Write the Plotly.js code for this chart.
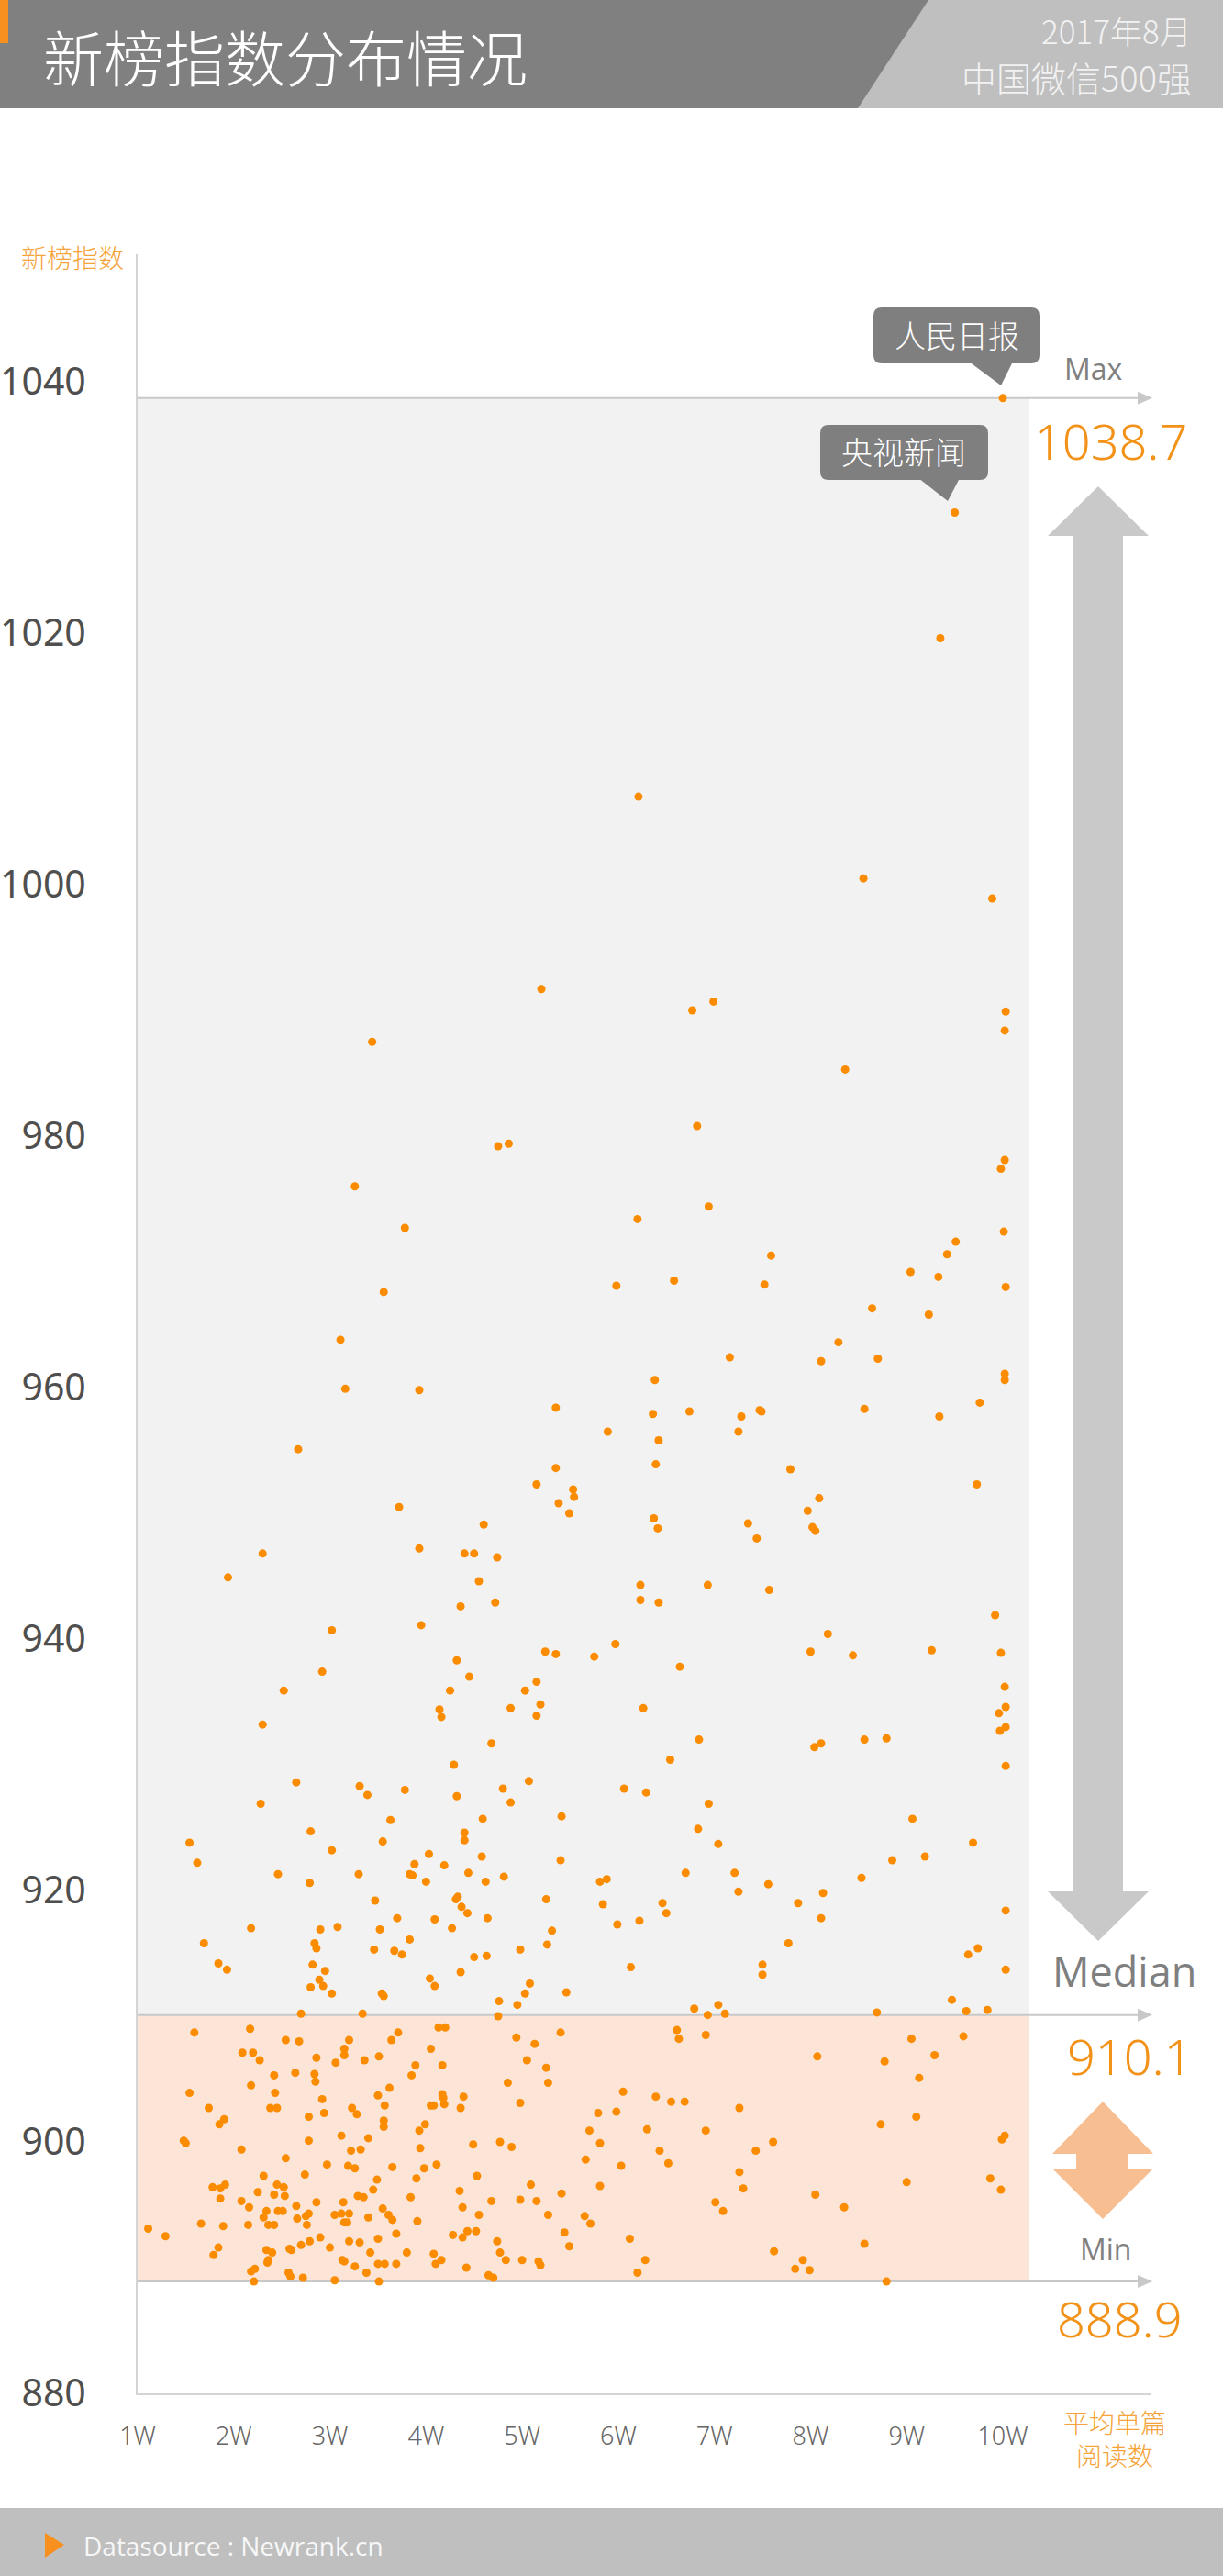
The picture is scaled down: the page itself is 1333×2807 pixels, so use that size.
<!DOCTYPE html>
<html>
<head>
<meta charset="utf-8">
<script src="https://cdn.plot.ly/plotly-3.0.1.min.js"></script>
<style>
  html, body { margin: 0; padding: 0; background: #ffffff; }
  #chart { width: 1333px; height: 2807px; }
</style>
</head>
<body>
<div id="chart"></div>
<script>
// ---------------- DATA ----------------
// Average reads per article (unit: W = 10,000) and Newrank index, accounts above the median
const readsAbove = [
  10.0, 9.50, 9.35, 6.21, 8.55,
  5.20, 3.44, 4.75, 4.86, 3.26, 3.78, 3.56, 3.11,
  9.89, 6.99, 6.77, 10.03, 10.02, 8.36, 6.82, 10.02, 9.98, 6.94, 6.20, 7.59, 9.51, 9.42, 10.01, 5.98,
  6.58, 7.52, 9.04, 9.33, 10.03, 8.64, 9.23, 8.29, 7.16, 8.11, 8.70, 6.38, 10.02, 10.02,
  3.16, 3.93, 5.35, 2.67, 5.35, 5.15, 5.53, 5.54, 5.38, 5.49, 3.72, 4.60, 2.30, 3.93, 4.40, 4.50,
  4.74, 1.94, 4.55, 4.36, 4.72, 3.02, 3.95, 4.32, 5.24, 5.35, 5.75, 2.92, 4.45, 2.52, 4.25, 5.15,
  5.03, 5.19, 5.15, 4.14, 4.16, 4.88, 2.30, 4.68, 4.29, 2.65, 5.07, 3.31, 3.39, 3.78, 4.32, 4.80,
  4.88, 2.28, 3.63, 4.59, 5.41, 2.80, 4.40, 4.40, 1.54, 3.02, 3.55, 1.62, 4.03, 4.58, 5.40, 3.88,
  2.46, 3.30, 3.83, 3.86, 4.19, 4.44, 4.81, 2.79, 4.00, 4.62, 3.47, 4.31, 4.33, 4.37, 4.43, 5.25,
  3.70, 4.09, 4.64, 2.18, 2.90, 3.08, 3.52, 4.27, 5.31, 1.69, 2.84, 2.86, 3.83, 5.26, 3.46, 3.67,
  3.75, 4.98, 4.50, 4.63, 1.84, 1.93, 2.82, 2.95, 4.36, 4.04, 4.09, 5.08, 2.89, 2.93, 2.80, 3.02,
  3.54, 3.56, 5.03, 5.46, 4.76, 4.95, 2.70, 3.34, 4.75,
  6.36, 6.74, 5.89, 6.42, 7.28, 7.25, 7.47, 7.49, 8.56, 9.34, 9.76, 6.39, 7.79, 9.73, 8.09, 7.97,
  6.37, 6.41, 7.35, 7.44, 8.02, 8.05, 6.23, 6.23, 6.42, 6.93, 7.57, 9.92, 5.97, 8.18, 8.00, 8.44,
  9.26, 9.98, 6.64, 10.02, 6.26, 10.03, 9.96, 9.97, 10.03, 6.84, 8.04, 8.11, 8.56, 8.79, 10.03, 6.54,
  6.06, 6.29, 6.94, 6.83, 7.04, 9.06, 9.69, 9.19, 8.85, 8.53, 6.70, 7.21, 7.25, 7.56, 8.13, 7.87,
  8.11, 5.84, 6.46, 6.50, 5.99, 6.22, 10.03, 7.77, 6.13, 7.50, 7.50, 9.64, 9.74, 10.03, 9.47, 6.79,
  7.04, 6.93, 7.11, 8.69, 9.62, 9.84, 5.81, 5.88
];
const indexAbove = [
  1038.7, 1029.6, 1019.6, 1007.0, 1000.5,
  991.7, 987.5, 979.2, 979.4, 976.0, 972.7, 967.6, 963.8,
  998.9, 990.7, 990.0, 989.9, 988.4, 985.3, 980.8, 978.1, 977.4, 974.4, 973.4, 970.5, 971.6, 970.6, 972.4, 968.1,
  968.5, 968.2, 969.2, 968.8, 968.0, 966.3, 965.8, 963.6, 962.4, 962.1, 962.3, 960.6, 961.1, 960.6,
  959.9, 959.8, 958.4, 955.1, 953.6, 952.3, 951.9, 951.3, 950.8, 950.0, 950.5, 949.1, 946.8, 947.2, 946.8, 946.8,
  946.5, 944.9, 944.6, 942.6, 942.9, 940.7, 941.1, 938.3, 939.0, 938.8, 938.6, 937.4, 937.0, 935.9, 935.9, 936.6,
  935.9, 934.8, 933.9, 934.4, 933.8, 934.5, 933.2, 931.7, 930.0, 928.6, 928.7, 928.3, 927.6, 928.0, 927.5, 928.1,
  927.0, 926.9, 925.6, 925.7, 925.9, 924.7, 924.6, 924.0, 923.8, 923.2, 923.9, 922.2, 922.9, 922.7, 922.4, 922.1,
  921.3, 921.3, 921.3, 921.2, 922.0, 921.4, 921.1, 920.6, 920.7, 920.7, 919.2, 919.3, 919.5, 918.7, 918.2, 919.3,
  917.8, 917.7, 917.8, 917.0, 916.9, 917.1, 916.9, 917.0, 916.8, 915.8, 915.8, 915.4, 916.1, 915.7, 915.3, 915.2,
  914.9, 915.3, 914.7, 914.8, 914.2, 913.7, 914.1, 913.6, 913.5, 913.0, 912.4, 912.6, 912.9, 912.4, 912.3, 911.8,
  911.8, 911.6, 911.8, 911.9, 911.2, 910.9, 910.2, 910.2, 910.0,
  957.9, 958.1, 956.5, 955.8, 957.7, 956.5, 958.2, 958.1, 958.3, 957.7, 958.8, 953.9, 953.5, 952.3, 951.2, 950.2,
  949.6, 948.8, 949.2, 948.0, 948.9, 948.6, 944.3, 943.1, 942.9, 944.3, 943.9, 941.9, 939.6, 940.4, 939.0, 938.7,
  939.1, 938.9, 937.8, 936.2, 934.5, 934.6, 934.1, 932.7, 933.0, 932.0, 931.4, 931.7, 932.0, 932.1, 929.9, 930.4,
  928.1, 927.8, 926.9, 924.9, 923.7, 925.7, 923.8, 922.7, 922.4, 921.0, 921.4, 921.4, 919.9, 920.5, 919.8, 919.0,
  917.8, 918.9, 919.0, 918.2, 917.3, 917.6, 918.4, 915.8, 913.9, 914.1, 913.3, 914.9, 915.4, 913.7, 911.3, 910.6,
  910.9, 910.1, 910.2, 910.3, 910.4, 910.5, 920.7, 920.9
];
// Accounts below the median
const readsBelow = [
  1.59, 2.17, 2.54, 2.68, 3.20, 3.71, 3.64, 4.13, 4.20, 4.94, 5.13, 2.09, 2.20, 2.27, 2.86, 3.15,
  3.15, 3.06, 3.36, 3.51, 4.05, 4.17, 3.89, 3.85, 5.05, 5.25, 2.42, 2.64, 2.84, 2.85, 4.85, 5.27,
  2.18, 1.54, 2.43, 2.92, 3.50, 3.62, 3.57, 4.17, 4.18, 4.19, 4.39, 4.05, 4.08, 4.36, 4.98, 1.74,
  2.38, 2.45, 1.90, 1.85, 2.78, 2.94, 3.23, 3.28, 3.56, 3.56, 3.99, 3.93, 1.48, 1.50, 2.08, 2.78,
  3.12, 3.40, 3.94, 4.49, 4.77, 4.89, 3.22, 3.32, 2.54, 2.97, 3.19, 3.26, 3.65, 3.98, 4.11, 2.31,
  2.74, 3.49, 3.90, 4.53, 1.78, 1.86, 1.91, 2.45, 2.52, 2.25, 2.42, 2.53, 3.45, 3.29, 3.35, 5.09,
  4.35, 1.86, 2.08, 2.16, 2.86, 3.14, 3.84, 4.38, 4.68, 4.98, 5.15, 2.65, 2.78, 2.34, 2.46, 2.51,
  2.31, 2.66, 2.75, 3.05, 3.12, 3.20, 3.55, 3.61, 3.65, 4.55, 5.27, 1.11, 1.29, 1.66, 1.89, 2.15,
  2.36, 2.42, 2.76, 3.15, 3.18, 3.40, 3.91, 3.69, 4.28, 4.38, 4.43, 4.52, 2.79, 2.90, 3.20, 3.31,
  3.50, 4.74, 1.84, 1.79, 2.34, 2.40, 2.58, 2.60, 2.70, 3.00, 3.42, 3.80, 4.77, 2.36, 2.35, 3.13,
  3.15, 3.26, 3.50, 3.57, 3.69, 4.08, 4.10, 4.16, 4.83, 5.00, 5.17, 5.19, 2.18, 2.22, 2.57, 2.59,
  2.72, 3.38, 4.42, 4.65, 4.70, 2.21, 3.05, 3.51,
  5.40, 8.07, 8.77, 9.05, 9.29, 9.59, 9.13, 6.61, 6.63, 6.91, 6.05, 6.39, 6.55, 6.69, 7.26, 5.79,
  5.98, 5.70, 5.81, 6.30, 6.91, 8.73, 9.10, 6.43, 6.52, 7.43, 7.61, 5.66, 6.03, 7.26, 7.30, 5.81,
  5.41, 9.00, 9.87, 9.98, 9.99, 10.02, 8.05, 8.35, 7.01, 7.09, 5.44, 5.49, 5.65, 5.71, 6.12, 6.28,
  6.20, 7.62, 7.92, 7.84, 7.99, 8.56, 8.79
];
const indexBelow = [
  908.7, 909.0, 908.1, 908.0, 908.1, 908.7, 908.1, 909.1, 909.1, 908.3, 907.8, 907.1, 907.1, 906.5, 906.7, 907.4,
  906.9, 906.3, 906.5, 906.8, 907.4, 906.1, 906.1, 905.3, 906.5, 905.9, 905.3, 905.5, 905.4, 904.8, 904.7, 904.7,
  904.5, 903.9, 903.9, 903.4, 903.7, 904.3, 902.9, 903.8, 903.5, 903.0, 903.6, 902.9, 902.9, 902.7, 903.1, 902.7,
  902.7, 902.7, 901.8, 901.4, 902.0, 902.3, 902.7, 902.2, 901.7, 901.2, 901.4, 900.9, 900.1, 899.9, 899.4, 900.1,
  900.5, 900.3, 899.5, 899.8, 900.0, 899.6, 899.3, 899.4, 898.7, 898.2, 898.1, 897.9, 898.0, 897.9, 898.2, 897.3,
  897.4, 897.0, 897.1, 897.3, 896.4, 896.3, 896.6, 896.6, 896.4, 896.0, 895.8, 895.7, 896.2, 895.7, 895.6, 896.6,
  896.1, 895.5, 895.3, 894.8, 895.2, 895.2, 895.6, 894.8, 895.3, 895.4, 895.3, 894.9, 894.3, 894.5, 894.5, 894.5,
  894.0, 893.9, 894.1, 894.2, 894.3, 894.3, 894.7, 894.2, 893.8, 894.2, 894.2, 893.1, 892.5, 893.5, 893.3, 893.4,
  893.4, 893.4, 893.4, 893.6, 893.6, 894.0, 893.7, 892.7, 892.6, 892.4, 892.9, 892.9, 892.1, 892.4, 892.1, 892.0,
  892.3, 892.1, 891.6, 891.0, 891.4, 891.2, 891.5, 891.4, 891.8, 891.6, 891.2, 891.2, 891.2, 890.6, 890.4, 890.6,
  890.5, 890.1, 890.3, 890.3, 890.3, 891.1, 890.3, 890.6, 890.6, 890.6, 890.5, 890.2, 889.7, 889.9, 889.6, 889.3,
  889.2, 889.6, 890.0, 889.4, 889.2, 888.9, 889.0, 888.9,
  908.7, 906.8, 906.4, 908.2, 906.9, 908.4, 905.1, 908.9, 908.2, 908.5, 904.0, 903.6, 903.2, 903.2, 902.7, 902.3,
  902.4, 900.9, 899.9, 901.0, 900.9, 901.4, 902.0, 899.3, 898.3, 899.3, 900.0, 898.6, 898.1, 897.6, 896.3, 896.5,
  895.9, 896.8, 897.1, 896.2, 900.2, 900.5, 895.8, 894.8, 895.2, 894.5, 892.8, 891.7, 894.1, 893.5, 892.3, 890.6,
  889.6, 891.3, 890.6, 889.9, 889.8, 891.9, 888.9
];
// Summary statistics printed on the chart
const statMax = 1038.7;
const statMedian = 910.1;
const statMin = 888.9;
// Highlighted accounts
const calloutNames = ['人民日报', '央视新闻'];
// Axis ticks
const xTickVals = [1, 2, 3, 4, 5, 6, 7, 8, 9, 10];
const xTickLabels = ['1W', '2W', '3W', '4W', '5W', '6W', '7W', '8W', '9W', '10W'];
const yTickVals = [880, 900, 920, 940, 960, 980, 1000, 1020, 1040];
const yTickLabels = ['880', '900', '920', '940', '960', '980', '1000', '1020', '1040'];

// ---------------- LAYOUT GEOMETRY ----------------
const W = 1333, H = 2807;
const ML = 150, MR = 79, MT = 277, MB = 199;
const PW = W - ML - MR, PH = H - MT - MB;
const PX_PER_W = 104.78, PX_PER_UNIT = 13.70;
const xRange = [1, 1 + PW / PX_PER_W];
const yRange = [880, 880 + PH / PX_PER_UNIT];

const px = X => (X - ML) / PW;
const py = Y => (H - MB - Y) / PH;
const yPix = v => H - MB - (v - yRange[0]) * PX_PER_UNIT;
function pathPx(pts, close) {
  return pts.map((p, i) => (i ? 'L' : 'M') + px(p[0]).toFixed(5) + ',' + py(p[1]).toFixed(5)).join(' ') + (close ? ' Z' : '');
}
function roundRectPx(x0, y0, x1, y1, r) {
  const P = (X, Y) => px(X).toFixed(5) + ',' + py(Y).toFixed(5);
  return 'M' + P(x0 + r, y0) + ' L' + P(x1 - r, y0) + ' Q' + P(x1, y0) + ' ' + P(x1, y0 + r) +
    ' L' + P(x1, y1 - r) + ' Q' + P(x1, y1) + ' ' + P(x1 - r, y1) +
    ' L' + P(x0 + r, y1) + ' Q' + P(x0, y1) + ' ' + P(x0, y1 - r) +
    ' L' + P(x0, y0 + r) + ' Q' + P(x0, y0) + ' ' + P(x0 + r, y0) + ' Z';
}
const pshape = (path, fill) => ({ type: 'path', xref: 'paper', yref: 'paper', path: path, fillcolor: fill, line: { width: 0 }, layer: 'above' });

const ORANGE = '#fb8c00';
const ORANGE_TXT = '#f39219';
const AXIS_ORANGE = '#f5a33a';
const CJK = '"Noto Sans CJK SC", "Noto Sans", sans-serif';
const NUM = '"Noto Sans", "Open Sans", sans-serif';
const LAT = '"Open Sans", "Noto Sans", sans-serif';

// ---------------- SHAPES ----------------
const shapes = [];
const bandRight = px(1122);
// shaded bands
shapes.push({ type: 'rect', xref: 'paper', yref: 'y', x0: 0, x1: bandRight, y0: statMedian, y1: statMax, fillcolor: '#f2f2f2', line: { width: 0 }, layer: 'below' });
shapes.push({ type: 'rect', xref: 'paper', yref: 'y', x0: 0, x1: bandRight, y0: statMin, y1: statMedian, fillcolor: '#fce5d7', line: { width: 0 }, layer: 'below' });
// reference lines with arrowheads
[statMax, statMedian, statMin].forEach(v => {
  shapes.push({ type: 'line', xref: 'paper', yref: 'y', x0: 0, x1: px(1244), y0: v, y1: v, line: { color: '#c8c8c8', width: 2 }, layer: 'below' });
  const Y = yPix(v);
  shapes.push({ type: 'path', xref: 'paper', yref: 'paper', path: pathPx([[1240, Y - 7], [1256, Y], [1240, Y + 7]], true), fillcolor: '#c8c8c8', line: { width: 0 }, layer: 'below' });
});
// big grey double arrow (max -> median)
shapes.push(pshape(pathPx([[1197, 530], [1252, 584], [1224, 584], [1224, 2061], [1252, 2061], [1197, 2115], [1142, 2061], [1169, 2061], [1169, 584], [1142, 584]], true), '#c9c9c9'));
// orange double arrow (median -> min)
shapes.push(pshape(pathPx([[1202, 2290], [1257, 2347], [1230, 2347], [1230, 2363], [1257, 2363], [1202, 2418], [1147, 2363], [1173, 2363], [1173, 2347], [1147, 2347]], true), '#f7be91'));
// callouts
shapes.push(pshape(roundRectPx(952, 335, 1133, 396, 9), '#7f7f7f'));
shapes.push(pshape(pathPx([[1056, 394], [1104, 394], [1091, 420]], true), '#7f7f7f'));
shapes.push(pshape(roundRectPx(894, 463, 1077, 523, 9), '#7f7f7f'));
shapes.push(pshape(pathPx([[1001, 521], [1046, 521], [1033, 546]], true), '#7f7f7f'));
// header
shapes.push(pshape(pathPx([[0, 0], [W, 0], [W, 118], [0, 118]], true), '#808080'));
shapes.push(pshape(pathPx([[1012, 0], [W, 0], [W, 118], [935, 118]], true), '#bfbfbf'));
shapes.push(pshape(pathPx([[0, 0], [9, 0], [9, 47], [0, 47]], true), '#f7901e'));
// footer
shapes.push(pshape(pathPx([[0, 2733], [W, 2733], [W, H], [0, H]], true), '#bfbfbf'));
shapes.push(pshape(pathPx([[49, 2760], [70, 2773], [49, 2787]], true), '#f7901e'));

// ---------------- ANNOTATIONS ----------------
function txt(text, X, Y, size, color, family, xanchor, weight) {
  return { text: text, xref: 'paper', yref: 'paper', x: px(X), y: py(Y), xanchor: xanchor || 'center', yanchor: 'middle',
    showarrow: false, font: { family: family, size: size, color: color, weight: weight || 400 } };
}
const annotations = [
  txt('新榜指数分布情况', 45, 60, 66, '#ffffff', CJK, 'left', 300),
  txt('2017年8月', 1301, 32, 35, '#f2f2f2', CJK, 'right', 300),
  txt('中国微信500强', 1301, 83, 38, '#f2f2f2', CJK, 'right', 300),
  txt('新榜指数', 79, 280, 28, AXIS_ORANGE, CJK, 'center', 300),
  txt('平均单篇<br>阅读数', 1215, 2657, 28, AXIS_ORANGE, CJK, 'center', 300),
  txt('Max', 1192, 401, 32, '#808080', LAT, 'center', 400),
  txt(statMax.toFixed(1), 1210, 480, 54, ORANGE_TXT, NUM, 'center', 300),
  txt('Median', 1225, 2147, 45, '#7f7f7f', LAT, 'center', 400),
  txt(statMedian.toFixed(1), 1231, 2240, 54, ORANGE_TXT, NUM, 'center', 300),
  txt('Min', 1205, 2450, 32, '#808080', LAT, 'center', 400),
  txt(statMin.toFixed(1), 1220, 2526, 54, ORANGE_TXT, NUM, 'center', 300),
  txt(calloutNames[0], 1043, 365, 34, '#ffffff', CJK, 'center', 300),
  txt(calloutNames[1], 985, 492, 34, '#ffffff', CJK, 'center', 300),
  txt('Datasource : Newrank.cn', 89, 2774, 28, '#f7f7f7', LAT, 'left', 400)
];

// ---------------- TRACES ----------------
const trace = {
  type: 'scatter', mode: 'markers',
  x: readsAbove.concat(readsBelow),
  y: indexAbove.concat(indexBelow),
  marker: { size: 9, color: ORANGE, line: { width: 0 } },
  cliponaxis: false,
  hoverinfo: 'skip'
};

const layout = {
  width: W, height: H,
  margin: { l: ML, r: MR, t: MT, b: MB, pad: 0 },
  paper_bgcolor: '#ffffff', plot_bgcolor: 'rgba(0,0,0,0)',
  showlegend: false,
  xaxis: {
    range: xRange, autorange: false, fixedrange: true,
    showgrid: false, zeroline: false,
    showline: true, linecolor: '#d4d4d4', linewidth: 2,
    tickmode: 'array', tickvals: xTickVals, ticktext: xTickLabels, ticks: '',
    ticklabelstandoff: 22,
    tickfont: { family: NUM, size: 27, color: '#666666', weight: 300 }
  },
  yaxis: {
    range: yRange, autorange: false, fixedrange: true,
    showgrid: false, zeroline: false,
    showline: true, linecolor: '#d4d4d4', linewidth: 2,
    tickmode: 'array', tickvals: yTickVals, ticktext: yTickLabels, ticks: '',
    ticklabelstandoff: 46,
    tickfont: { family: NUM, size: 41, color: '#4f4f4f' }
  },
  shapes: shapes,
  annotations: annotations
};

Plotly.newPlot('chart', [trace], layout, { displayModeBar: false, staticPlot: true });
</script>
</body>
</html>
